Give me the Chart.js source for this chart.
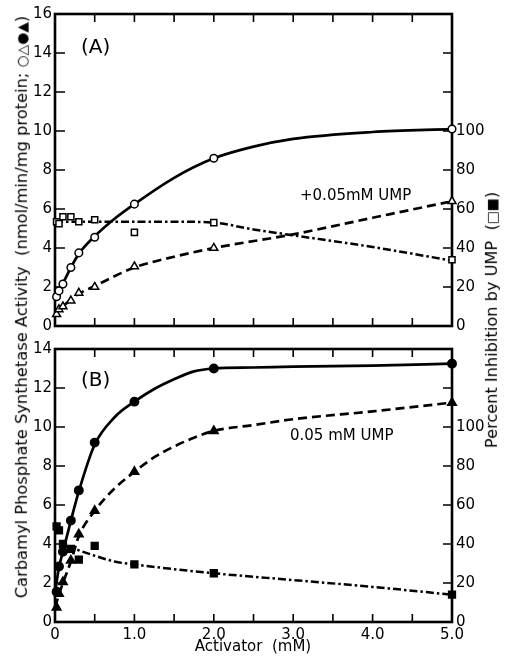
<!DOCTYPE html>
<html>
<head>
<meta charset="utf-8">
<script src="https://cdn.jsdelivr.net/npm/chart.js@4.4.1/dist/chart.umd.min.js"></script>
<style>
  html,body{margin:0;padding:0;background:#fff}
  #wrap{position:relative;width:511px;height:660px;overflow:hidden;background:#fff;font-family:'DejaVu Sans',Arial,sans-serif;color:#000}
  canvas{position:absolute;left:0}
  .lbl{position:absolute;white-space:nowrap;line-height:1}
  .rot{position:absolute;white-space:nowrap;line-height:1;transform:translate(-50%,-50%) rotate(-90deg)}
  .sym{font-size:0.85em}
</style>
</head>
<body>
<div id="wrap">
  <canvas id="chartA" width="511" height="340" style="top:0"></canvas>
  <canvas id="chartB" width="511" height="325" style="top:335px"></canvas>
  <div class="lbl" style="left:81px;top:36px;font-size:20px">(A)</div>
  <div class="lbl" style="left:81px;top:369px;font-size:20px">(B)</div>
  <div class="lbl" style="left:300px;top:188px;font-size:15px">+0.05mM UMP</div>
  <div class="lbl" style="left:290px;top:428px;font-size:15px">0.05 mM UMP</div>
  <div class="lbl" style="left:253px;top:639px;font-size:15px;transform:translateX(-50%)">Activator&nbsp;&nbsp;(mM)</div>
  <div class="rot" id="ttlLeft" style="left:22px;top:307px;font-size:16px">Carbamyl Phosphate Synthetase Activity&nbsp;&nbsp;(nmol/min/mg protein; <span class="sym">○△●▲</span>)</div>
  <div class="rot" id="ttlRight" style="left:492px;top:320px;font-size:15px">Percent Inhibition by UMP&nbsp;&nbsp;(<span class="sym">□■</span>)</div>
</div>
<script>
// ── measured points (x = activator mM) ──
const ptsX=[0.02,0.05,0.1,0.2,0.3,0.5,1,2,5];
// panel A (no UMP / +0.05 mM UMP / % inhibition)
const openCircA=[1.5,1.8,2.15,3.0,3.75,4.55,6.25,8.6,10.1];
const openTriA=[0.6,0.85,1.0,1.3,1.7,2.0,3.05,4.0,6.4];
const openSqA=[53.5,52.5,56,56,53.5,54.5,48,53,34];
// panel B
const fillCircB=[1.55,2.85,3.6,5.2,6.75,9.2,11.3,13.0,13.25];
const fillTriB=[0.75,1.45,2.05,3.15,4.5,5.7,7.7,9.8,11.25];
const fillSqB=[49,47,40,37.5,32,39,29.5,25,14];

// ── drawn curves ──
const solidAx=[0,0.05,0.1,0.2,0.3,0.5,0.75,1,1.5,2,2.5,3,4,5];
const solidAy=[1.45,1.85,2.2,3.0,3.7,4.6,5.5,6.25,7.6,8.6,9.2,9.6,9.95,10.1];
const dashAx=[0,0.05,0.1,0.2,0.3,0.5,1,1.5,2,3,4,5];
const dashAy=[0.6,0.8,1.0,1.35,1.65,2.05,3.0,3.55,4.0,4.7,5.55,6.4];
const dotAx=[0,0.5,1,1.5,2,2.5,3,4,5];
const dotAy=[53.5,53.5,53.5,53.5,53,49.5,46.5,40.5,33.5];
const solidBx=[0,0.05,0.1,0.2,0.3,0.5,0.75,1,1.25,1.5,1.75,2,2.5,3,4,5];
const solidBy=[1.5,2.8,3.6,5.2,6.7,9.1,10.5,11.3,11.95,12.45,12.85,13.0,13.05,13.1,13.15,13.25];
const dashBx=[0,0.05,0.1,0.2,0.3,0.5,0.75,1,1.25,1.5,1.75,2,2.5,3,4,5];
const dashBy=[0.75,1.4,2.0,3.1,4.4,5.7,6.85,7.7,8.45,9.0,9.45,9.8,10.1,10.4,10.8,11.25];
const dotBx=[0.15,0.25,0.5,0.75,1,2,3,4,5];
const dotBy=[39,37.5,34,31,29.5,25,21.5,18,14];

const xTicks=['0','1.0','2.0','3.0','4.0','5.0'];

Chart.defaults.font.family="'DejaVu Sans', Arial, sans-serif";
Chart.defaults.font.size=15;
Chart.defaults.color='#000';

const xy=(xs,ys)=>xs.map((x,i)=>({x,y:ys[i]}));

// box frame + inward tick marks
const frame={id:'frame',beforeDatasetsDraw(chart){
  const {ctx,chartArea:a,scales}=chart;
  ctx.save();ctx.strokeStyle='#000';ctx.lineCap='butt';
  ctx.lineWidth=1.6;
  ctx.beginPath();
  scales.x.ticks.forEach((t,i)=>{const p=scales.x.getPixelForTick(i);
    ctx.moveTo(p,a.bottom);ctx.lineTo(p,a.bottom-8);ctx.moveTo(p,a.top);ctx.lineTo(p,a.top+8)});
  scales.y.ticks.forEach((t,i)=>{const p=scales.y.getPixelForTick(i);ctx.moveTo(a.left,p);ctx.lineTo(a.left+10,p)});
  scales.y1.ticks.forEach((t,i)=>{const p=scales.y1.getPixelForTick(i);ctx.moveTo(a.right,p);ctx.lineTo(a.right-9,p)});
  ctx.stroke();
  ctx.lineWidth=2.6;
  ctx.strokeRect(a.left,a.top,a.right-a.left,a.bottom-a.top);
  ctx.restore();
}};

function pointSet(xs,ys,style,r,filled,axis){
  return {type:'line',data:xy(xs,ys),yAxisID:axis,showLine:false,pointStyle:style,pointRadius:r,
    pointBackgroundColor:filled?'#000':'#fff',pointBorderColor:'#000',pointBorderWidth:1.5,clip:false};
}
function curveSet(xs,ys,dash,w,axis){
  return {type:'line',data:xy(xs,ys),yAxisID:axis,borderColor:'#000',borderWidth:w,borderDash:dash,
    pointRadius:0,fill:false,cubicInterpolationMode:'monotone',clip:false};
}

function makeChart(id,datasets,yMax,y1Max,showX,xH){
  return new Chart(document.getElementById(id),{
    type:'line',data:{datasets},plugins:[frame],
    options:{responsive:false,animation:false,devicePixelRatio:1,
      layout:{padding:{top:14,left:0,right:0,bottom:0}},
      plugins:{legend:{display:false},tooltip:{enabled:false}},
      scales:{
        x:{type:'linear',min:0,max:5,grid:{display:false,drawTicks:false},border:{display:false},
          ticks:{display:showX,stepSize:0.5,autoSkip:false,maxRotation:0,padding:4,
            callback:v=>Number.isInteger(v)?xTicks[v]:''},
          afterFit:s=>{s.height=xH}},
        y:{position:'left',min:0,max:yMax,grid:{display:false,drawTicks:false},border:{display:false},
          ticks:{stepSize:2,padding:3,autoSkip:false},afterFit:s=>{s.width=55}},
        y1:{position:'right',min:0,max:y1Max,grid:{display:false,drawTicks:false},border:{display:false},
          ticks:{stepSize:20,padding:4,autoSkip:false,callback:v=>v<=100?v:''},afterFit:s=>{s.width=59}}
      }}
  });
}

makeChart('chartA',[
  pointSet(ptsX,openCircA,'circle',3.8,false,'y'),
  pointSet(ptsX,openTriA,'triangle',4.6,false,'y'),
  pointSet(ptsX,openSqA,'rect',4.3,false,'y1'),
  curveSet(solidAx,solidAy,[],2.7,'y'),
  curveSet(dashAx,dashAy,[9,5],2.7,'y'),
  curveSet(dotAx,dotAy,[8,3,2.5,3],2.5,'y1')
],16,160,false,14);

makeChart('chartB',[
  pointSet(ptsX,fillCircB,'circle',4.2,true,'y'),
  pointSet(ptsX,fillTriB,'triangle',5,true,'y'),
  pointSet(ptsX,fillSqB,'rect',4.8,true,'y1'),
  curveSet(solidBx,solidBy,[],2.7,'y'),
  curveSet(dashBx,dashBy,[9,5],2.7,'y'),
  curveSet(dotBx,dotBy,[8,3,2.5,3],2.5,'y1')
],14,140,true,38);

// fit rotated titles to their span in the figure
function fitLen(id,len){const el=document.getElementById(id);
  const fs=parseFloat(el.style.fontSize);el.style.fontSize=(fs*len/el.offsetWidth).toFixed(2)+'px';}
fitLen('ttlLeft',583);
fitLen('ttlRight',256);
</script>
</body>
</html>
